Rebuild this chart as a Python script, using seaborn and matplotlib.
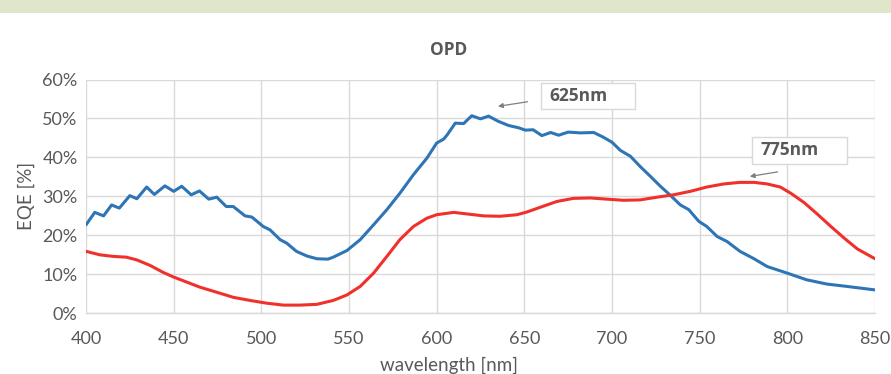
import numpy as np
import pandas as pd
import seaborn as sns
import matplotlib.pyplot as plt
from matplotlib.patches import Rectangle

# ---- data ----
blue_nm = [400, 405, 410, 414.6, 419, 425, 429, 434.6, 439, 445, 450, 454.6, 460, 464.7, 470,
           474.6, 480, 484, 490.7, 494.6, 501, 505, 510.7, 514.5, 520, 526, 531.7, 538, 541,
           548.8, 556.4, 564, 571.6, 579, 586.8, 594.4, 600, 604, 606, 610.6, 615.4, 620, 625,
           629.6, 635, 641, 646.8, 650.6, 655, 660, 665, 669.6, 675, 682, 689.6, 695, 700,
           704.8, 710.5, 716, 722, 727.6, 733, 739, 743.8, 749.5, 754, 760, 765.7, 773, 781,
           788.5, 800, 811, 822.6, 834, 850]
blue_eqe = [22.7, 25.9, 25.0, 27.8, 27.0, 30.2, 29.4, 32.4, 30.5, 32.7, 31.3, 32.6, 30.4, 31.4, 29.3,
            29.8, 27.4, 27.4, 25.0, 24.7, 22.3, 21.4, 18.9, 18.0, 15.9, 14.7, 14.0, 13.9, 14.4,
            16.1, 18.9, 22.7, 26.6, 30.8, 35.6, 39.8, 43.7, 44.7, 45.8, 48.8, 48.7, 50.7, 49.9,
            50.6, 49.3, 48.2, 47.6, 47.0, 47.1, 45.6, 46.4, 45.7, 46.5, 46.3, 46.4, 45.2, 43.9,
            41.8, 40.3, 37.7, 35.1, 32.6, 30.4, 27.8, 26.6, 23.6, 22.3, 19.7, 18.4, 15.9, 14.0,
            12.0, 10.3, 8.6, 7.5, 6.9, 6.0]

red_nm = [400, 408, 415.6, 423, 429, 436.5, 444, 450, 457.5, 465, 474.6, 484, 493.6, 503, 512.6,
          522, 531.7, 541, 548.8, 556.4, 564, 571.6, 579, 586.8, 594.4, 600, 609.7, 617.3,
          626.8, 636.3, 645.8, 651.5, 659, 668.6, 678, 687.7, 697, 706.7, 716, 725.7, 735,
          744.7, 754, 763.8, 773, 781, 788.5, 796, 802, 809.6, 817, 824.8, 832.4, 840, 850]
red_eqe = [15.9, 15.0, 14.6, 14.4, 13.7, 12.3, 10.5, 9.3, 8.0, 6.7, 5.4, 4.1, 3.3, 2.6, 2.1,
           2.1, 2.3, 3.3, 4.7, 6.9, 10.3, 14.6, 18.9, 22.3, 24.4, 25.3, 25.9, 25.5,
           25.0, 24.9, 25.3, 26.0, 27.2, 28.7, 29.5, 29.6, 29.3, 29.0, 29.1, 29.8, 30.4,
           31.3, 32.4, 33.2, 33.6, 33.6, 33.2, 32.4, 30.8, 28.4, 25.5, 22.3, 19.3, 16.5, 14.0]

x_ticks = [400, 450, 500, 550, 600, 650, 700, 750, 800, 850]
y_ticks = [0, 10, 20, 30, 40, 50, 60]
y_tick_labels = ["0%", "10%", "20%", "30%", "40%", "50%", "60%"]
title = "OPD"
x_label = "wavelength [nm]"
y_label = "EQE [%]"
annotations = ["625nm", "775nm"]

# ---- style ----
sns.set_theme(style="white")
plt.rcParams['font.family'] = ['Lato', 'DejaVu Sans']

W, H, DPI = 891, 374, 100
fig = plt.figure(figsize=(W / DPI, H / DPI), dpi=DPI)
fig.patch.set_facecolor("white")
# top band
fig.patches.append(Rectangle((0, 1 - 12.5 / H), 1, 12.5 / H, transform=fig.transFigure,
                             facecolor="#DFE7CB", edgecolor="none", zorder=0))

left, right = 86 / W, 875 / W
bottom, top = 1 - 313.3 / H, 1 - 79.5 / H
ax = fig.add_axes([left, bottom, right - left, top - bottom])

df_b = pd.DataFrame({"nm": blue_nm, "eqe": blue_eqe})
df_r = pd.DataFrame({"nm": red_nm, "eqe": red_eqe})
sns.lineplot(data=df_b, x="nm", y="eqe", ax=ax, color="#2E75B6", linewidth=2.2, zorder=3)
sns.lineplot(data=df_r, x="nm", y="eqe", ax=ax, color="#F0302A", linewidth=2.2, zorder=3)

ax.set_xlim(400, 850)
ax.set_ylim(0, 60)
ax.set_xticks(x_ticks)
ax.set_yticks(y_ticks)
ax.set_yticklabels(y_tick_labels)
ax.grid(True, color="#D9D9D9", linewidth=1.0)
ax.set_axisbelow(True)
for s in ["top", "right", "left"]:
    ax.spines[s].set_visible(False)
ax.spines["bottom"].set_color("#D9D9D9")
ax.spines["bottom"].set_linewidth(1.0)
ax.tick_params(axis="both", length=0, labelsize=13, labelcolor="#595959")
ax.tick_params(axis="x", pad=13)
ax.tick_params(axis="y", pad=6)
ax.set_xlabel("")
ax.set_ylabel(y_label, fontsize=13.5, color="#595959", labelpad=5)

fig.text(449 / W, 1 - 50 / H, title, ha="center", va="center", fontsize=12.5,
         fontweight="bold", color="#595959", family=["Open Sans", "DejaVu Sans"])
fig.text(449 / W, 1 - 365 / H, x_label, ha="center", va="center", fontsize=13.5,
         color="#595959")

# annotation boxes
box_style = dict(facecolor="white", edgecolor="#D9D9D9", linewidth=1.0)
ax.add_patch(Rectangle((659.7, 52.5), 53.7, 6.7, zorder=4, **box_style))
ax.text(664.5, 55.85, annotations[0], ha="left", va="center", fontsize=12.5,
        fontweight="bold", color="#595959", zorder=5, family=["Open Sans", "DejaVu Sans"])
ax.add_patch(Rectangle((780, 38.4), 53.8, 6.9, zorder=4, **box_style))
ax.text(784.5, 41.85, annotations[1], ha="left", va="center", fontsize=12.5,
        fontweight="bold", color="#595959", zorder=5, family=["Open Sans", "DejaVu Sans"])
arrow = dict(arrowstyle="-|>", color="#7F7F7F", linewidth=0.9, mutation_scale=7)
ax.annotate("", xy=(633.4, 53.0), xytext=(653.4, 54.4), arrowprops=arrow, zorder=5)
ax.annotate("", xy=(777, 35.0), xytext=(796, 36.4), arrowprops=arrow, zorder=5)

fig.savefig("out.png", dpi=DPI)
